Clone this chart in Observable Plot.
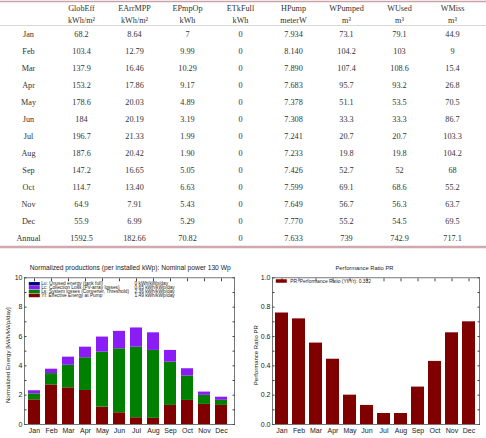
<!DOCTYPE html>
<html><head><meta charset="utf-8">
<script src="https://cdn.jsdelivr.net/npm/d3@7"></script>
<script src="https://cdn.jsdelivr.net/npm/@observablehq/plot@0.6"></script>
<style>
body{margin:0;background:#fff;}
#page{position:relative;width:486px;height:438px;overflow:hidden;background:#fff;}
#page > svg{position:absolute;}
</style></head><body><div id="page"></div>
<script>
// ---------- Table data ----------
const months = ["Jan","Feb","Mar","Apr","May","Jun","Jul","Aug","Sep","Oct","Nov","Dec"];
const rowLabels = [...months, "Annual"];
const colKeys = ["label","GlobEff","EArrMPP","EPmpOp","ETkFull","HPump","WPumped","WUsed","WMiss"];
const headerNames = ["", "GlobEff", "EArrMPP", "EPmpOp", "ETkFull", "HPump", "WPumped", "WUsed", "WMiss"];
const headerUnits = ["", "kWh/m²", "kWh/m²", "kWh", "kWh", "meterW", "m³", "m³", "m³"];
const globEff = ["68.2","103.4","137.9","153.2","178.6","184","196.7","187.6","147.2","114.7","64.9","55.9","1592.5"];
const eArrMPP = ["8.64","12.79","16.46","17.86","20.03","20.19","21.33","20.42","16.65","13.40","7.91","6.99","182.66"];
const ePmpOp = ["7","9.99","10.29","9.17","4.89","3.19","1.99","1.90","5.05","6.63","5.43","5.29","70.82"];
const eTkFull = ["0","0","0","0","0","0","0","0","0","0","0","0","0"];
const hPump = ["7.934","8.140","7.890","7.683","7.378","7.308","7.241","7.233","7.426","7.599","7.649","7.770","7.633"];
const wPumped = ["73.1","104.2","107.4","95.7","51.1","33.3","20.7","19.8","52.7","69.1","56.7","55.2","739"];
const wUsed = ["79.1","103","108.6","93.2","53.5","33.3","20.7","19.8","52","68.6","56.3","54.5","742.9"];
const wMiss = ["44.9","9","15.4","26.8","70.5","86.7","103.3","104.2","68","55.2","63.7","69.5","717.1"];

// ---------- Normalized productions (kWh/kWp/day) ----------
const compKeys = ["Yf","Ls","Lc","Lu"];
const yfVals = [1.68,2.70,2.50,2.32,1.18,0.80,0.46,0.42,1.30,1.64,1.37,1.30];
const lsVals = [0.41,0.77,1.54,2.23,3.75,4.36,4.81,4.63,2.95,1.67,0.62,0.35];
const lcVals = [0.21,0.30,0.55,0.72,1.03,1.19,1.31,1.20,0.80,0.49,0.22,0.21];
const luVals = [0,0,0,0,0,0,0,0,0,0,0,0];
const compColors = ["#800000","#008000","#8a1cf5","#000080"];
const legendKeys = ["Lu","Lc","Ls","Yf"];
const legendLabels = ["Lu: Unused energy (tank full)","Lc: Collection Loss (PV-array losses)","Ls: System losses (Converter, Threshold)","Yf: Effective Energy at Pump"];
const legendValues = ["0 kWh/kWp/day","0.65 kWh/kWp/day","2.36 kWh/kWp/day","1.49 kWh/kWp/day"];

// ---------- Performance ratio ----------
const prVals = [0.76,0.72,0.555,0.445,0.20,0.13,0.075,0.075,0.255,0.43,0.625,0.70];
const prLegend = "PR: Performance Ratio (Yf/Yr): 0.332";

const page = document.getElementById("page");

// ---------- Table ----------
const colValues = {label: rowLabels, GlobEff: globEff, EArrMPP: eArrMPP, EPmpOp: ePmpOp, ETkFull: eTkFull, HPump: hPump, WPumped: wPumped, WUsed: wUsed, WMiss: wMiss};
const cells = colKeys.flatMap(c => rowLabels.map((r, i) => ({col: c, row: r, text: colValues[c][i]})));
const headerCells = colKeys.map((c, i) => ({col: c, text: headerNames[i] + "\n" + headerUnits[i]}));

const serif = {fontFamily: "Liberation Serif", fontSize: 8.2, fill: "#333"};
const table = Plot.plot({
  width: 486, height: 260,
  marginTop: 1, marginBottom: 13.5, marginLeft: 0, marginRight: 0,
  style: {fontFamily: "Liberation Serif", fontSize: "8.2px", background: "white"},
  x: {type: "point", domain: colKeys, padding: 0, insetLeft: 25.5, insetRight: 31.5, axis: null},
  y: {type: "point", domain: rowLabels, padding: 0, insetTop: 32.3, insetBottom: 7.2, axis: null},
  marks: [
    Plot.frame({anchor: "top", stroke: "#c9a3a8", strokeWidth: 1.5}),
    Plot.frame({anchor: "top", dy: 24, stroke: "#d8d8d8", strokeWidth: 1}),
    Plot.frame({anchor: "bottom", stroke: "#cfa9ae", strokeWidth: 2.5}),
    Plot.text(headerCells, {x: "col", frameAnchor: "top", dy: 11.5, lineAnchor: "middle", lineHeight: 1.42, text: "text", ...serif}),
    Plot.text(cells, {x: "col", y: "row", text: "text", ...serif})
  ]
});
table.style.left = "0px"; table.style.top = "0px";
page.appendChild(table);

// ---------- Left chart ----------
const compVals = {Yf: yfVals, Ls: lsVals, Lc: lcVals, Lu: luVals};
const stackData = compKeys.flatMap(k => months.map((m, i) => ({month: m, comp: k, value: compVals[k][i]})));
const sans = "Liberation Sans";
const swatch = {draw(ctx) { ctx.rect(-5.5, -1.75, 11, 3.5); }};

function tickAxes(yTicks) {
  return [
    Plot.axisY({anchor: "left", ticks: yTicks, tickSize: 2.5, dx: 2.5, fill: "none", stroke: "#444", label: null}),
    Plot.axisY({anchor: "right", ticks: yTicks, tickSize: 2.5, dx: -2.5, fill: "none", stroke: "#444", label: null}),
    Plot.axisX({anchor: "top", tickSize: 3, dy: 3, fill: "none", stroke: "#444", label: null}),
    Plot.axisX({anchor: "bottom", tickSize: 3, dy: -3, fill: "none", stroke: "#444", label: null})
  ];
}

const left = Plot.plot({
  width: 243, height: 178,
  marginLeft: 24, marginRight: 9, marginTop: 17.3, marginBottom: 14,
  style: {fontFamily: sans, fontSize: "7px", background: "white", color: "#222"},
  x: {type: "band", domain: months, paddingInner: 0.29, paddingOuter: 0.115, insetRight: 3, label: null},
  y: {domain: [0, 10], label: null},
  color: {domain: compKeys, range: compColors},
  marks: [
    ...tickAxes(d3.range(0, 11, 1)),
    Plot.barY(stackData, {x: "month", y: "value", fill: "comp", order: compKeys}),
    Plot.frame({stroke: "#555", strokeWidth: 0.8}),
    Plot.axisY({anchor: "left", ticks: d3.range(0, 11, 2), tickSize: 0, tickPadding: 2, label: null, fontSize: 7}),
    Plot.axisX({anchor: "bottom", tickSize: 0, tickPadding: 3.5, label: null, fontSize: 7}),
    Plot.text(["Normalized Energy [kWh/kWp/day]"], {frameAnchor: "left", dx: -16.7, dy: 4, rotate: -90, text: d => d, fontSize: 6.2, lineAnchor: "middle", textAnchor: "middle", fill: "#222"}),
    Plot.text(["Normalized productions (per installed kWp): Nominal power 130 Wp"], {frameAnchor: "top", dx: 0.7, dy: -10, lineAnchor: "middle", text: d => d, fontSize: 6.7, fill: "#222"}),
    ...legendKeys.flatMap((k, i) => [
      Plot.dot([k], {frameAnchor: "top-left", dx: 9.8, dy: 6 + i * 3.9, symbol: swatch, fill: d => d, stroke: null}),
      Plot.text([legendLabels[i]], {frameAnchor: "top-left", dx: 16.7, dy: 6 + i * 3.9, text: d => d, textAnchor: "start", lineAnchor: "middle", fontSize: 4.8, fill: "#222"}),
      Plot.text([legendValues[i]], {frameAnchor: "top-left", dx: 110, dy: 6 + i * 3.9, text: d => d, textAnchor: "start", lineAnchor: "middle", fontSize: 4.8, fill: "#222"})
    ])
  ]
});
left.style.left = "0px"; left.style.top = "260px";
page.appendChild(left);

// ---------- Right chart ----------
const prData = months.map((m, i) => ({month: m, pr: prVals[i]}));
const right = Plot.plot({
  width: 243, height: 178,
  marginLeft: 29, marginRight: 7, marginTop: 17.3, marginBottom: 14,
  style: {fontFamily: sans, fontSize: "7px", background: "white", color: "#222"},
  x: {type: "band", domain: months, paddingInner: 0.25, paddingOuter: 0.058, insetRight: 1, label: null},
  y: {domain: [0, 1], label: null},
  marks: [
    ...tickAxes(d3.range(0, 1.0001, 0.1)),
    Plot.barY(prData, {x: "month", y: "pr", fill: "#800000"}),
    Plot.frame({stroke: "#555", strokeWidth: 0.8}),
    Plot.axisY({anchor: "left", ticks: d3.range(0, 1.0001, 0.2), tickFormat: d3.format(".1f"), tickSize: 0, tickPadding: 2, label: null, fontSize: 7}),
    Plot.axisX({anchor: "bottom", tickSize: 0, tickPadding: 3.5, label: null, fontSize: 7}),
    Plot.text(["Performance Ratio PR"], {frameAnchor: "left", dx: -16.5, dy: 4, rotate: -90, text: d => d, fontSize: 6, lineAnchor: "middle", textAnchor: "middle", fill: "#222"}),
    Plot.text(["Performance Ratio PR"], {frameAnchor: "top", dx: -11.5, dy: -10, lineAnchor: "middle", text: d => d, fontSize: 5.8, fill: "#222"}),
    Plot.dot(["PR"], {frameAnchor: "top-left", dx: 8.8, dy: 3.2, symbol: swatch, fill: "#800000", stroke: null}),
    Plot.text([prLegend], {frameAnchor: "top-left", dx: 17.7, dy: 3.4, text: d => d, textAnchor: "start", lineAnchor: "middle", fontSize: 4.9, fill: "#222"})
  ]
});
right.style.left = "243px"; right.style.top = "260px";
page.appendChild(right);
</script>
</body></html>
